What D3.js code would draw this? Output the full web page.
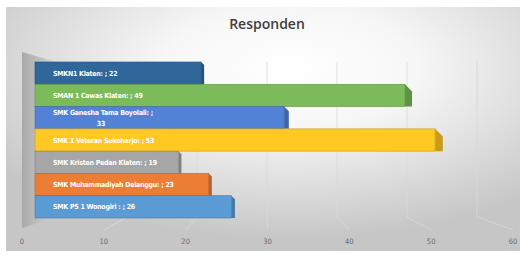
<!DOCTYPE html>
<html>
<head>
<meta charset="utf-8">
<script src="https://cdn.jsdelivr.net/npm/d3@7"></script>
<style>
  body { margin: 0; background: #fff; }
  svg { display: block; }
</style>
</head>
<body>
<div id="chart"></div>
<script>
// data
const categories = [
    "SMKN1 Klaten:",
    "SMAN 1 Cawas Klaten:",
    "SMK Ganesha Tama Boyolali:",
    "SMK 1 Veteran Sukoharjo:",
    "SMK Kristen Pedan Klaten:",
    "SMK Muhammadiyah Delanggu:",
    "SMK PS 1 Wonogiri :"
];
const values = [22, 49, 33, 53, 19, 23, 26];
const tickValues = [0, 10, 20, 30, 40, 50, 60];
const wrappedLabels = ["SMK Ganesha Tama Boyolali:"];

const palette = ["#2f679b", "#7bbb5a", "#5282d6", "#ffc822", "#a6a6a6", "#ec7d34", "#5b9bd5"];

function drawChart() {
    const width = 525;
    const height = 255;

    const svg = d3.select("#chart")
        .append("svg")
        .attr("width", width)
        .attr("height", height);

    const defs = svg.append("defs");

    const bg = defs.append("radialGradient")
        .attr("id", "bg")
        .attr("cx", "55%").attr("cy", "25%").attr("r", "70%");
    bg.append("stop").attr("offset", "0%").attr("stop-color", "#ffffff");
    bg.append("stop").attr("offset", "35%").attr("stop-color", "#f7f7f7");
    bg.append("stop").attr("offset", "100%").attr("stop-color", "#c6c6c6");

    const wallGrad = defs.append("linearGradient")
        .attr("id", "wall")
        .attr("x1", "0%").attr("x2", "100%");
    wallGrad.append("stop").attr("offset", "0%").attr("stop-color", "#a9a9a9");
    wallGrad.append("stop").attr("offset", "100%").attr("stop-color", "#d6d6d6");

    // chart background
    svg.append("rect")
        .attr("x", 6).attr("y", 7)
        .attr("width", 514).attr("height", 244)
        .attr("fill", "url(#bg)");

    // scales: bars on the front plane, grid on the back wall, labels on the floor edge
    const x = d3.scaleLinear().domain([0, 60]).range([35, 488]);
    const xBack = d3.scaleLinear().domain([0, 60]).range([57, 477]);
    const xFloor = d3.scaleLinear().domain([0, 60]).range([22, 513]);
    const y = d3.scaleBand().domain(categories).range([62, 218]).padding(0);

    // left wall
    svg.append("polygon")
        .attr("points", "22,52 57,62 57,217 22,228")
        .attr("fill", "url(#wall)");

    // back wall grid + floor lines
    const grid = svg.append("g");
    grid.selectAll("polyline")
        .data(tickValues.slice(1))
        .enter()
        .append("polyline")
        .attr("points", d => `${xBack(d)},62 ${xBack(d)},217 ${xFloor(d)},230`)
        .attr("fill", "none")
        .attr("stroke", "#d9d9d9")
        .attr("stroke-width", 0.8);

    // bars
    const bars = svg.selectAll(".bar")
        .data(categories)
        .enter()
        .append("g")
        .attr("class", "bar");

    bars.each(function(cat, i) {
        const g = d3.select(this);
        const x0 = x(0);
        const xe = x(values[i]);
        const y0 = y(cat);
        const h = y.bandwidth();
        const d = 3 + Math.max(0, xe - 200) * 0.02;
        const dark = d3.color(palette[i]).darker(0.7);

        g.append("polygon")
            .attr("points", `${xe},${y0} ${xe + d},${y0 + d} ${xe + d},${y0 + h} ${xe},${y0 + h}`)
            .attr("fill", dark);

        g.append("rect")
            .attr("x", x0)
            .attr("y", y0)
            .attr("width", xe - x0)
            .attr("height", h)
            .attr("fill", palette[i])
            .attr("stroke", dark)
            .attr("stroke-width", 0.6);
    });

    // data labels
    bars.each(function(cat, i) {
        const g = d3.select(this);
        const yc = y(cat) + y.bandwidth() / 2;
        const label = g.append("text")
            .attr("fill", "#ffffff")
            .style("font-family", "'Liberation Sans Narrow', 'DejaVu Sans Condensed', sans-serif")
            .style("font-weight", "bold")
            .style("font-size", "7px")
            .style("letter-spacing", "-0.25px");
        if (wrappedLabels.includes(cat)) {
            label.attr("text-anchor", "middle")
                .attr("x", 103)
                .attr("y", yc - 3);
            label.append("tspan").attr("x", 103).text(cat + " ;");
            label.append("tspan").attr("x", 101).attr("dy", 11).text(values[i]);
        } else {
            label.attr("x", 53)
                .attr("y", yc + 2.5)
                .text(cat + " ; " + values[i]);
        }
    });

    // axis labels along the floor
    svg.append("g")
        .selectAll("text")
        .data(tickValues)
        .enter()
        .append("text")
        .attr("x", d => xFloor(d))
        .attr("y", 244)
        .attr("text-anchor", "middle")
        .attr("fill", "#6a6a6a")
        .style("font-family", "'Liberation Sans Narrow', 'DejaVu Sans Condensed', sans-serif")
        .style("font-size", "7.5px")
        .text(d => d);

    // title
    svg.append("text")
        .attr("x", 267)
        .attr("y", 29)
        .attr("text-anchor", "middle")
        .attr("fill", "#404040")
        .style("font-family", "'Open Sans', sans-serif")
        .style("font-weight", "600")
        .style("font-size", "14px")
        .text("Responden");
}

document.addEventListener("DOMContentLoaded", function(event) {
    drawChart();
});
</script>
</body>
</html>
